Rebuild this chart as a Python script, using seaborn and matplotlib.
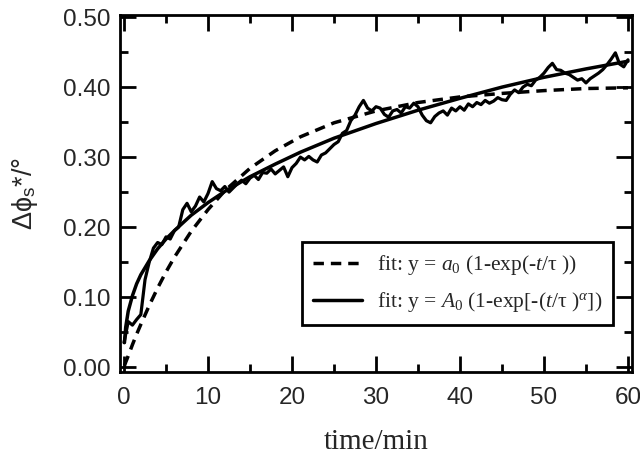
import numpy as np
import pandas as pd
import seaborn as sns
import matplotlib
matplotlib.use("Agg")
import matplotlib.pyplot as plt
from matplotlib.ticker import MultipleLocator

t_data = [0.0, 0.5, 1.0, 1.5, 2.0, 2.5, 3.0, 3.5, 4.0, 4.5, 5.0, 5.5, 6.0, 6.5, 7.0, 7.5,
          8.0, 8.5, 9.0, 9.5, 10.0, 10.5, 11.0, 11.5, 12.0, 12.5, 13.0, 13.5, 14.0, 14.5,
          15.0, 15.5, 16.0, 16.5, 17.0, 17.5, 18.0, 18.5, 19.0, 19.5, 20.0, 20.5, 21.0, 21.5,
          22.0, 22.5, 23.0, 23.5, 24.0, 24.5, 25.0, 25.5, 26.0, 26.5, 27.0, 27.5, 28.0, 28.5,
          29.0, 29.5, 30.0, 30.5, 31.0, 31.5, 32.0, 32.5, 33.0, 33.5, 34.0, 34.5, 35.0, 35.5,
          36.0, 36.5, 37.0, 37.5, 38.0, 38.5, 39.0, 39.5, 40.0, 40.5, 41.0, 41.5, 42.0, 42.5,
          43.0, 43.5, 44.0, 44.5, 45.0, 45.5, 46.0, 46.5, 47.0, 47.5, 48.0, 48.5, 49.0, 49.5,
          50.0, 50.5, 51.0, 51.5, 52.0, 52.5, 53.0, 53.5, 54.0, 54.5, 55.0, 55.5, 56.0, 56.5,
          57.0, 57.5, 58.0, 58.5, 59.0, 59.5, 60.0]
y_data = [0.035, 0.065, 0.060, 0.068, 0.075, 0.125, 0.150, 0.170, 0.178, 0.175, 0.186, 0.183,
          0.195, 0.200, 0.225, 0.234, 0.222, 0.230, 0.243, 0.236, 0.248, 0.265, 0.255, 0.252,
          0.258, 0.250, 0.256, 0.262, 0.267, 0.262, 0.270, 0.274, 0.268, 0.278, 0.277, 0.283,
          0.276, 0.281, 0.286, 0.272, 0.285, 0.291, 0.300, 0.296, 0.301, 0.296, 0.293, 0.303,
          0.306, 0.312, 0.318, 0.322, 0.334, 0.338, 0.352, 0.360, 0.372, 0.381, 0.370, 0.366,
          0.372, 0.370, 0.361, 0.357, 0.366, 0.368, 0.363, 0.372, 0.370, 0.377, 0.372, 0.360,
          0.352, 0.349, 0.358, 0.363, 0.366, 0.360, 0.370, 0.366, 0.372, 0.367, 0.376, 0.372,
          0.378, 0.375, 0.381, 0.377, 0.380, 0.385, 0.382, 0.381, 0.390, 0.396, 0.392, 0.400,
          0.404, 0.402, 0.410, 0.414, 0.420, 0.428, 0.434, 0.425, 0.424, 0.420, 0.418, 0.414,
          0.410, 0.412, 0.406, 0.412, 0.416, 0.420, 0.425, 0.432, 0.440, 0.449, 0.433, 0.429,
          0.439]

# fitted curves
t_fit = [0.05, 0.2, 0.5, 1, 1.5, 2, 3, 4, 5, 6, 8, 10, 12, 15, 18, 21, 25, 30, 35, 40, 45, 50, 55, 60]
y_exp = [0.002, 0.007, 0.016, 0.032, 0.047, 0.061, 0.088, 0.113, 0.136, 0.157, 0.194, 0.225,
         0.252, 0.284, 0.309, 0.329, 0.349, 0.366, 0.378, 0.386, 0.391, 0.395, 0.398, 0.399]
y_str = [0.035, 0.057, 0.080, 0.102, 0.119, 0.132, 0.152, 0.169, 0.183, 0.195, 0.217, 0.235,
         0.251, 0.272, 0.290, 0.307, 0.327, 0.348, 0.367, 0.384, 0.400, 0.414, 0.426, 0.437]

lab_exp = r"fit: y = $a_{\mathit{0}}$ (1-exp(-$t$/τ ))"
lab_str = r"fit: y = $A_{\mathit{0}}$ (1-exp[-($t$/τ )$^{\alpha}$])"

sns.set_style("ticks")
plt.rcParams["font.family"] = ["Liberation Sans", "DejaVu Sans"]
plt.rcParams["mathtext.fontset"] = "custom"
plt.rcParams["mathtext.rm"] = "Liberation Serif"
plt.rcParams["mathtext.it"] = "Liberation Serif:italic"
plt.rcParams["mathtext.sf"] = "Liberation Sans"

fig = plt.figure(figsize=(6.4, 4.55), dpi=100)
ax = fig.add_axes([0.1875, 0.1824, 0.8, 0.7846])

sns.lineplot(x=t_data, y=y_data, color="black", lw=2.3, sort=False, estimator=None,
             legend=False, ax=ax)
sns.lineplot(x=t_fit, y=y_exp, color="black", lw=2.5, linestyle=(0, (3.0, 2.0)),
             sort=False, estimator=None, label=lab_exp, ax=ax)
sns.lineplot(x=t_fit, y=y_str, color="black", lw=2.5, sort=False, estimator=None,
             label=lab_str, ax=ax)

ax.set_xlim(-0.48, 60.48)
ax.set_ylim(-0.007, 0.503)
ax.xaxis.set_major_locator(MultipleLocator(10))
ax.xaxis.set_minor_locator(MultipleLocator(5))
ax.yaxis.set_major_locator(MultipleLocator(0.1))
ax.yaxis.set_minor_locator(MultipleLocator(0.05))
ax.yaxis.set_major_formatter(matplotlib.ticker.FormatStrFormatter("%.2f"))

ax.tick_params(which="both", direction="in", top=True, right=True, width=2, color="black")
ax.tick_params(which="major", length=11.5, labelsize=17.5, pad=11)
ax.tick_params(which="minor", length=6)
ax.tick_params(axis="y", which="major", pad=7)
for s in ax.spines.values():
    s.set_linewidth(2)
    s.set_color("black")

ax.set_xlabel("time/min", family="Liberation Serif", fontsize=21, labelpad=14)
ax.set_ylabel(r"Δϕ$_\mathsf{s}$*/°", fontsize=19.5, labelpad=16)

leg = ax.legend(loc="lower left", bbox_to_anchor=(0.355, 0.132), borderaxespad=0,
                frameon=True, fancybox=False, edgecolor="black",
                prop={"family": "Liberation Serif", "size": 15.5},
                handlelength=2.3, handletextpad=0.7, labelspacing=0.6, borderpad=0.5)
leg.get_frame().set_linewidth(2)
leg.get_frame().set_alpha(1)

fig.savefig("out.png", dpi=100)
